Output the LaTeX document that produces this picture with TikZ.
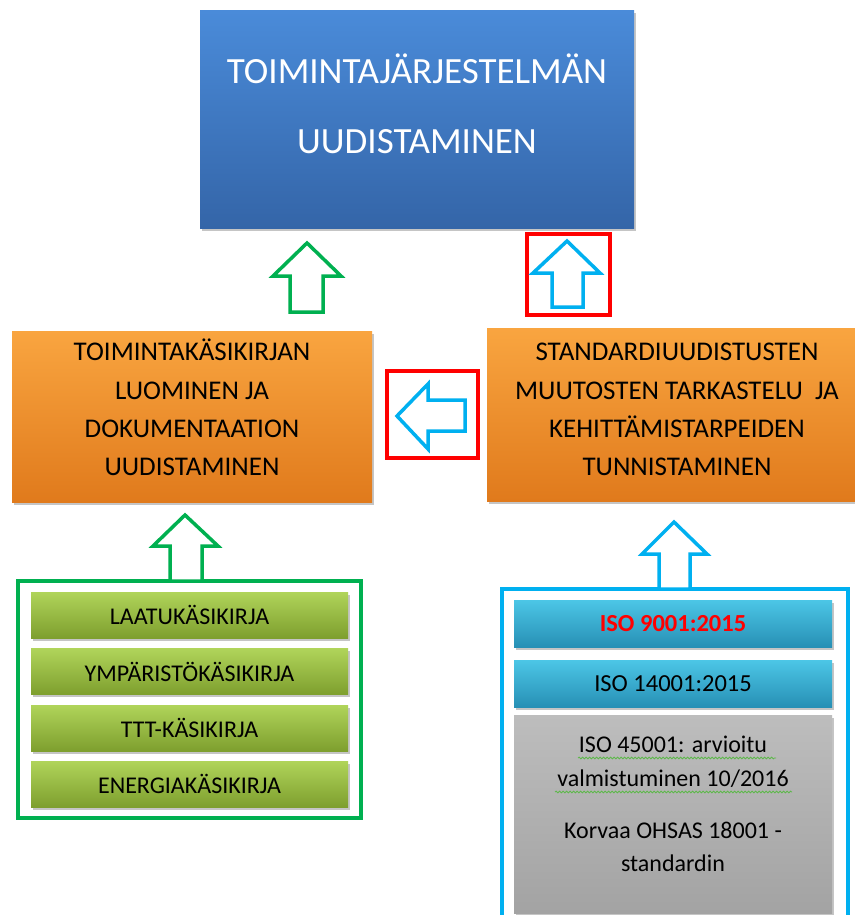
\documentclass[tikz,border=0pt]{standalone}
\usepackage{fontspec}
\setmainfont{Carlito}
\usetikzlibrary{shadows,decorations.pathmorphing}
\definecolor{bluetop}{HTML}{4A8BD9}
\definecolor{bluebot}{HTML}{3465A8}
\definecolor{orangetop}{HTML}{F9A540}
\definecolor{orangebot}{HTML}{E07A1C}
\definecolor{greentop}{HTML}{B0D45A}
\definecolor{greenbot}{HTML}{7E9F2E}
\definecolor{isotop}{HTML}{4CC6E6}
\definecolor{isobot}{HTML}{2790B5}
\definecolor{greytop}{HTML}{BDBDBD}
\definecolor{greybot}{HTML}{A3A3A3}
\definecolor{frgreen}{HTML}{00B050}
\definecolor{frblue}{HTML}{00B0F0}
\definecolor{spellgreen}{HTML}{5DB84A}
\tikzset{
  plate/.style={rectangle, inner sep=2pt, align=center,
    drop shadow={opacity=0.45, shadow xshift=1.5pt, shadow yshift=-2.5pt}},
  bluebox/.style={plate, top color=bluetop, bottom color=bluebot, text=white,
    font=\fontsize{37}{70}\selectfont, text depth=32pt},
  orangebox/.style={plate, top color=orangetop, bottom color=orangebot, text=black,
    font=\fontsize{27}{38.3}\selectfont, text depth=18pt},
  greenbar/.style={plate, top color=greentop, bottom color=greenbot,
    font=\fontsize{24}{28}\selectfont, minimum width=317pt, minimum height=46pt},
  isobar/.style={plate, top color=isotop, bottom color=isobot,
    font=\fontsize{24.5}{28}\selectfont, minimum width=318pt, minimum height=47pt},
  framebox/.style={draw, line width=3.5pt, inner sep=0pt},
  blockarr/.style={line width=3.5pt, fill=white, line join=miter},
  wavy/.style={decorate, decoration={snake, amplitude=0.9pt, segment length=3.5pt},
    draw=spellgreen, line width=0.8pt}
}
\begin{document}
\begin{tikzpicture}[x=1pt, y=-1pt]
\useasboundingbox[fill=white] (0,0) rectangle (854,915);

% top box
\node[bluebox, minimum width=434pt, minimum height=217pt] (uud) at (417,119.5)
  {TOIMINTAJÄRJESTELMÄN\\UUDISTAMINEN};

% middle row
\node[orangebox, minimum width=360pt, minimum height=171pt] (kasi) at (192,416.5)
  {TOIMINTAKÄSIKIRJAN\\LUOMINEN JA\\DOKUMENTAATION\\UUDISTAMINEN};
\node[orangebox, text depth=10pt, minimum width=380pt, minimum height=173pt] (stand) at (677,414.5)
  {STANDARDIUUDISTUSTEN\\MUUTOSTEN TARKASTELU~ JA\\KEHITTÄMISTARPEIDEN\\TUNNISTAMINEN};

% red frames round the arrows
\node[framebox, draw=red, minimum width=83pt, minimum height=81pt] (rup) at (568.5,274.5) {};
\node[framebox, draw=red, minimum width=91pt, minimum height=87pt] (rleft) at (432.5,414.5) {};

% bottom left group
\node[framebox, draw=frgreen, minimum width=343pt, minimum height=237pt] (gfr) at (189.5,699.5) {};
\node[greenbar] (laatu) at (189.5,615) {LAATUKÄSIKIRJA};
\node[greenbar] (ymp) at (189.5,671.5) {YMPÄRISTÖKÄSIKIRJA};
\node[greenbar] (ttt) at (189.5,728) {TTT-KÄSIKIRJA};
\node[greenbar] (ener) at (189.5,784) {ENERGIAKÄSIKIRJA};

% bottom right group
\node[framebox, draw=frblue, minimum width=346pt, minimum height=341pt] (bfr) at (675,759.5) {};
\node[isobar, text=red, font=\fontsize{24.5}{28}\selectfont\bfseries] (iso9) at (673,623.5) {ISO 9001:2015};
\node[isobar] (iso14) at (673,683.5) {ISO 14001:2015};
\node[plate, top color=greytop, bottom color=greybot, minimum width=318pt, minimum height=198pt] (iso45) at (673,814) {};
\node[align=center, font=\fontsize{24}{33.5}\selectfont] (isotxt) at (673,804)
  {ISO 45001: arvioitu\\valmistuminen 10/2016\\[18.5pt]Korvaa OHSAS 18001 -\\standardin};
\draw[wavy] (578,758) -- (776,758);
\draw[wavy] (555,792) -- (792,792);

% block arrows
\draw[blockarr, draw=frgreen] (307,243) -- (341,276) -- (323,276) -- (323,312) -- (290,312) -- (290,276) -- (273,276) -- cycle;
\draw[blockarr, draw=frblue] (567,241) -- (600,273) -- (583,273) -- (583,307) -- (552,307) -- (552,273) -- (533,273) -- cycle;
\draw[blockarr, draw=frblue] (397,416) -- (428,384) -- (428,400) -- (465,400) -- (465,431) -- (428,431) -- (428,449) -- cycle;
\draw[blockarr, draw=frgreen] (185,515) -- (218,546) -- (202,546) -- (202,581) -- (170,581) -- (170,546) -- (153,546) -- cycle;
\draw[blockarr, draw=frblue] (674,522) -- (707,554) -- (690,554) -- (690,589) -- (659,589) -- (659,554) -- (642,554) -- cycle;
\end{tikzpicture}
\end{document}
